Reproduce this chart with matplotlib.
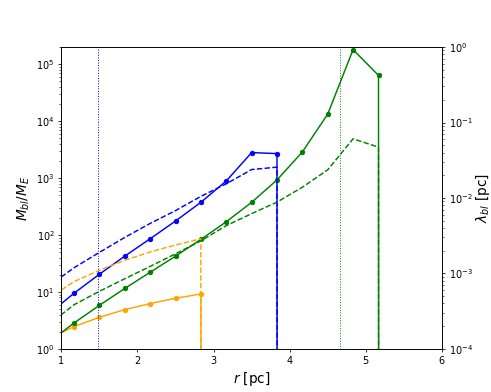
import numpy as np
import matplotlib
matplotlib.use('Agg')
import matplotlib.pyplot as plt

# radial grid (pc); first point sits left of the visible range
r = [0.833, 1.167, 1.5, 1.833, 2.167, 2.5, 2.833, 3.167, 3.5, 3.833,
     4.167, 4.5, 4.833, 5.167, 5.5]

# blob mass in Earth masses (solid, left axis)
M_blue = [4.1, 9.5, 20.5, 42.5, 86, 176, 375, 890, 2800, 2690, 0]
M_orange = [1.51, 2.46, 3.59, 4.9, 6.25, 7.75, 9.2, 0]
M_green = [1.31, 2.85, 5.83, 11.5, 22.2, 42.5, 83.7, 171, 375, 926,
           2880, 13300, 1.8e5, 63500, 0]

# blob size in pc (dashed, right axis)
lam_blue = [6.8e-4, 1.19e-3, 1.9e-3, 3.0e-3, 4.6e-3, 6.8e-3, 1.05e-2,
            1.54e-2, 2.38e-2, 2.56e-2, 0]
lam_orange = [4.7e-4, 7.8e-4, 1.10e-3, 1.49e-3, 1.93e-3, 2.38e-3, 2.88e-3, 0]
lam_green = [2.1e-4, 3.85e-4, 5.8e-4, 8.5e-4, 1.24e-3, 1.82e-3, 2.7e-3,
             4.3e-3, 6.2e-3, 8.8e-3, 0.0139, 0.0236, 0.0608, 0.0471, 0]

# characteristic radii (dotted)
r_blue = 1.475
r_green = 4.66

fig, ax = plt.subplots(figsize=(491 / 70, 392 / 70), dpi=70)
ax2 = ax.twinx()

for M, lam, c in [(M_blue, lam_blue, 'blue'),
                  (M_orange, lam_orange, 'orange'),
                  (M_green, lam_green, 'green')]:
    ax.plot(r[:len(M)], M, 'o-', color=c, ms=4.5)
    ax2.plot(r[:len(lam)], lam, '--', color=c)

ax.axvline(r_blue, color='blue', ls=':', lw=1)
ax.axvline(r_green, color='green', ls=':', lw=1)

ax.set_yscale('log')
ax2.set_yscale('log')
ax.set_xlim(1, 6)
ax.set_ylim(1, 2e5)
ax2.set_ylim(1e-4, 1)

ax.set_xlabel(r'$r$ [pc]', fontsize=14)
ax.set_ylabel(r'$M_{bl}/M_E$', fontsize=14)
ax2.set_ylabel(r'$\lambda_{bl}$ [pc]', fontsize=14, labelpad=1)

plt.savefig('out.png', dpi=70)
plt.close()
